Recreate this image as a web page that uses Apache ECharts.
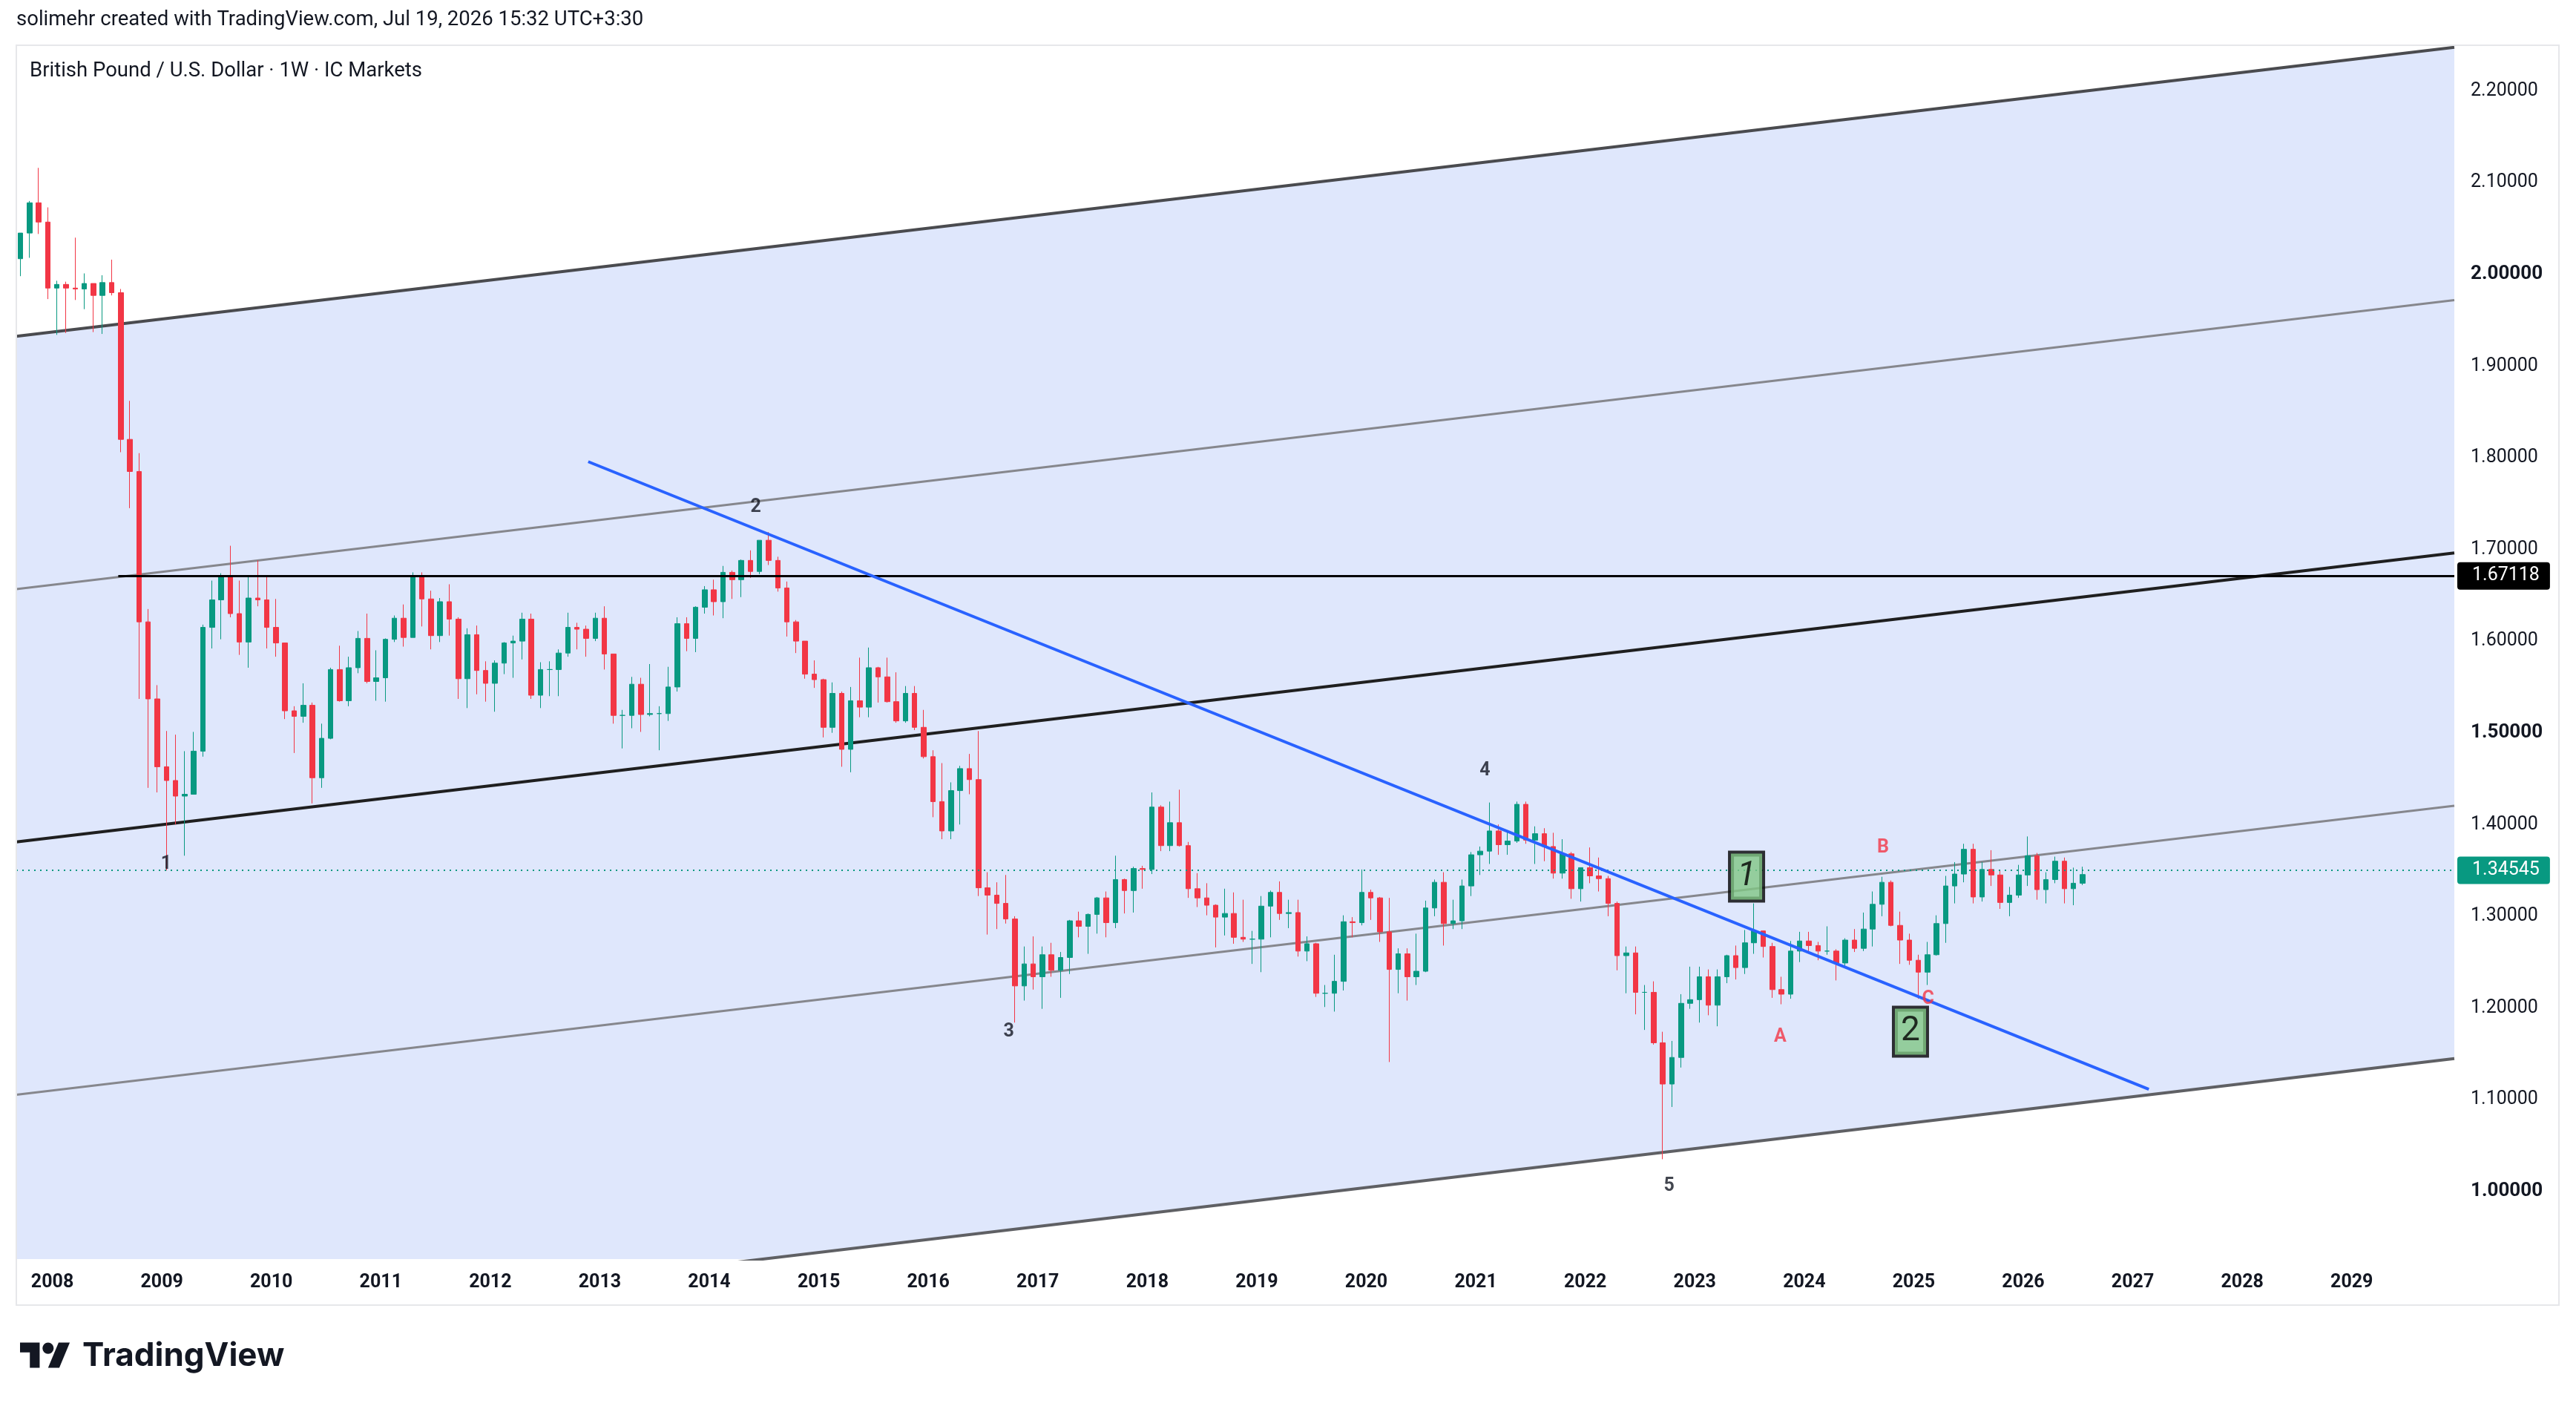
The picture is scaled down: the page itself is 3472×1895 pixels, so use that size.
<!DOCTYPE html>
<html>
<head>
<meta charset="utf-8">
<title>GBPUSD 1W</title>
<script src="https://cdn.jsdelivr.net/npm/echarts@6/dist/echarts.min.js"></script>
<style>
  html, body { margin: 0; padding: 0; background: #fff; }
  #chart { width: 3472px; height: 1895px; }
</style>
</head>
<body>
<div id="chart"></div>
<script>
// monthly candles, first one is Sep 2007
var firstYear = 2007, firstMonth = 9;

var opens = [
  2.0170, 2.0450, 2.0780, 2.0570,
  1.9850, 1.9890, 1.9850, 1.9840, 1.9900, 1.9770, 1.9910, 1.9800, 1.8200, 1.7850, 1.6210, 1.5370,
  1.4630, 1.4480, 1.4310, 1.4330, 1.4800, 1.6150, 1.6450, 1.6700, 1.6300, 1.5990, 1.6470, 1.6450,
  1.6150, 1.5980, 1.5240, 1.5180, 1.5300, 1.4510, 1.4940, 1.5690, 1.5350, 1.5710, 1.6030, 1.5560,
  1.5600, 1.6020, 1.6250, 1.6040, 1.6700, 1.6460, 1.6060, 1.6430, 1.6240, 1.5590, 1.6070, 1.5680,
  1.5540, 1.5760, 1.5980, 1.6000, 1.6240, 1.5410, 1.5690, 1.5690, 1.5870, 1.6150, 1.6130, 1.6030,
  1.6250, 1.5860, 1.5190, 1.5190, 1.5530, 1.5200, 1.5210, 1.5210, 1.5500, 1.6190, 1.6030, 1.6370,
  1.6560, 1.6430, 1.6750, 1.6670, 1.6880, 1.6760, 1.7100, 1.6880, 1.6580, 1.6210, 1.6000, 1.5640,
  1.5580, 1.5060, 1.5430, 1.4820, 1.5350, 1.5280, 1.5710, 1.5610, 1.5340, 1.5130, 1.5430, 1.5060,
  1.4740, 1.4250, 1.3930, 1.4370, 1.4610, 1.4490, 1.3310, 1.3230, 1.3140, 1.2970, 1.2240, 1.2480,
  1.2340, 1.2580, 1.2410, 1.2550, 1.2950, 1.2890, 1.3020, 1.3200, 1.2930, 1.3400, 1.3280, 1.3520,
  1.3510, 1.4190, 1.3770, 1.4020, 1.3770, 1.3300, 1.3200, 1.3120, 1.2990, 1.3030, 1.2770, 1.2750,
  1.2750, 1.3110, 1.3260, 1.3030, 1.3040, 1.2620, 1.2700, 1.2160, 1.2160, 1.2290, 1.2940, 1.2930,
  1.3260, 1.3200, 1.2830, 1.2420, 1.2590, 1.2340, 1.2400, 1.3090, 1.3370, 1.2920, 1.2950, 1.3330,
  1.3670, 1.3710, 1.3930, 1.3780, 1.3820, 1.4220, 1.3830, 1.3900, 1.3760, 1.3470, 1.3680, 1.3300,
  1.3530, 1.3440, 1.3410, 1.3140, 1.2570, 1.2600, 1.2170, 1.2170, 1.1620, 1.1170, 1.1460, 1.2050,
  1.2090, 1.2340, 1.2030, 1.2340, 1.2570, 1.2440, 1.2710, 1.2840, 1.2670, 1.2200, 1.2150, 1.2620,
  1.2730, 1.2680, 1.2620, 1.2620, 1.2490, 1.2740, 1.2650, 1.2860, 1.3130, 1.3370, 1.2900, 1.2740,
  1.2520, 1.2390, 1.2580, 1.2920, 1.3330, 1.3460, 1.3730, 1.3210, 1.3510, 1.3450, 1.3150, 1.3230,
  1.3450, 1.3660, 1.3290, 1.3400, 1.3600, 1.3300, 1.3360
];
var highs = [
  2.0450, 2.0800, 2.1161, 2.0730,
  1.9930, 1.9920, 2.0400, 2.0010, 1.9900, 1.9990, 2.0160, 1.9840, 1.8620, 1.8050, 1.6350, 1.5520,
  1.5020, 1.4980, 1.4800, 1.5010, 1.6180, 1.6660, 1.6740, 1.7040, 1.6660, 1.6700, 1.6880, 1.6700,
  1.6460, 1.5980, 1.5290, 1.5540, 1.5330, 1.5100, 1.5710, 1.5950, 1.5830, 1.6110, 1.6300, 1.5900,
  1.6030, 1.6280, 1.6400, 1.6750, 1.6750, 1.6550, 1.6470, 1.6620, 1.6260, 1.6140, 1.6170, 1.5780,
  1.5790, 1.5990, 1.6060, 1.6310, 1.6300, 1.5770, 1.5780, 1.5910, 1.6310, 1.6200, 1.6170, 1.6310,
  1.6380, 1.5860, 1.5250, 1.5610, 1.5600, 1.5750, 1.5290, 1.5720, 1.6260, 1.6260, 1.6380, 1.6600,
  1.6670, 1.6820, 1.6770, 1.6890, 1.6990, 1.7100, 1.7190, 1.6920, 1.6650, 1.6230, 1.6000, 1.5790,
  1.5590, 1.5550, 1.5450, 1.5500, 1.5820, 1.5930, 1.5720, 1.5820, 1.5660, 1.5510, 1.5510, 1.5250,
  1.4810, 1.4670, 1.4460, 1.4640, 1.4770, 1.5020, 1.3480, 1.3370, 1.3450, 1.3000, 1.2670, 1.2780,
  1.2670, 1.2710, 1.2610, 1.2960, 1.3050, 1.3030, 1.3210, 1.3270, 1.3660, 1.3410, 1.3540, 1.3550,
  1.4350, 1.4210, 1.4250, 1.4380, 1.3810, 1.3470, 1.3360, 1.3130, 1.3300, 1.3260, 1.3180, 1.2840,
  1.3220, 1.3280, 1.3380, 1.3180, 1.3180, 1.2780, 1.2710, 1.2250, 1.2580, 1.3010, 1.2990, 1.3510,
  1.3290, 1.3210, 1.3200, 1.2650, 1.2650, 1.2810, 1.3170, 1.3400, 1.3480, 1.3180, 1.3400, 1.3700,
  1.3760, 1.4240, 1.4000, 1.3920, 1.4250, 1.4250, 1.3980, 1.3960, 1.3910, 1.3840, 1.3700, 1.3530,
  1.3750, 1.3640, 1.3440, 1.3160, 1.2670, 1.2670, 1.2250, 1.2290, 1.1740, 1.1640, 1.2150, 1.2450,
  1.2450, 1.2420, 1.2420, 1.2580, 1.2680, 1.2850, 1.3140, 1.2840, 1.2710, 1.2340, 1.2730, 1.2830,
  1.2830, 1.2720, 1.2890, 1.2640, 1.2760, 1.2860, 1.3040, 1.3270, 1.3430, 1.3390, 1.3050, 1.2810,
  1.2580, 1.2720, 1.3010, 1.3440, 1.3590, 1.3790, 1.3790, 1.3590, 1.3720, 1.3500, 1.3320, 1.3560,
  1.3870, 1.3690, 1.3480, 1.3650, 1.3640, 1.3530, 1.3540
];
var lows = [
  1.9980, 2.0180, 2.0440, 1.9730,
  1.9340, 1.9360, 1.9720, 1.9620, 1.9370, 1.9350, 1.9770, 1.8060, 1.7450, 1.5370, 1.4400, 1.4350,
  1.3500, 1.4000, 1.3660, 1.4350, 1.4740, 1.5920, 1.6020, 1.6260, 1.5850, 1.5710, 1.6380, 1.5920,
  1.5830, 1.5150, 1.4780, 1.5110, 1.4230, 1.4400, 1.4930, 1.5340, 1.5290, 1.5650, 1.5540, 1.5350,
  1.5340, 1.5990, 1.5940, 1.6040, 1.6160, 1.5910, 1.5990, 1.6060, 1.5370, 1.5270, 1.5420, 1.5340,
  1.5230, 1.5640, 1.5600, 1.5800, 1.5370, 1.5270, 1.5400, 1.5400, 1.5830, 1.5910, 1.5830, 1.6000,
  1.5690, 1.5100, 1.4830, 1.5050, 1.5010, 1.5180, 1.4810, 1.5130, 1.5450, 1.5890, 1.5880, 1.6300,
  1.6280, 1.6250, 1.6460, 1.6480, 1.6690, 1.6730, 1.6830, 1.6540, 1.6050, 1.5870, 1.5590, 1.5490,
  1.4950, 1.5000, 1.4630, 1.4570, 1.5170, 1.5170, 1.5330, 1.5330, 1.5110, 1.5110, 1.5030, 1.4720,
  1.4080, 1.3840, 1.3840, 1.4000, 1.4330, 1.3220, 1.2800, 1.2860, 1.2920, 1.1840, 1.2080, 1.2200,
  1.1990, 1.2340, 1.2110, 1.2370, 1.2770, 1.2590, 1.2810, 1.2770, 1.2870, 1.3030, 1.3040, 1.3300,
  1.3460, 1.3710, 1.3710, 1.3760, 1.3200, 1.3100, 1.3010, 1.2660, 1.2790, 1.2700, 1.2720, 1.2480,
  1.2390, 1.2770, 1.2960, 1.2870, 1.2560, 1.2510, 1.2120, 1.2010, 1.1960, 1.2190, 1.2770, 1.2900,
  1.2960, 1.2720, 1.1410, 1.2160, 1.2080, 1.2250, 1.2390, 1.3000, 1.2680, 1.2860, 1.2860, 1.3220,
  1.3450, 1.3570, 1.3670, 1.3670, 1.3800, 1.3790, 1.3570, 1.3600, 1.3410, 1.3410, 1.3190, 1.3160,
  1.3360, 1.3270, 1.3000, 1.2410, 1.2160, 1.1930, 1.1760, 1.1600, 1.0350, 1.0920, 1.1350, 1.1990,
  1.1840, 1.1920, 1.1800, 1.2270, 1.2310, 1.2370, 1.2590, 1.2550, 1.2110, 1.2040, 1.2100, 1.2500,
  1.2600, 1.2520, 1.2580, 1.2300, 1.2460, 1.2610, 1.2620, 1.2670, 1.3000, 1.2890, 1.2480, 1.2470,
  1.2100, 1.2250, 1.2570, 1.2710, 1.3140, 1.3370, 1.3140, 1.3160, 1.3330, 1.3080, 1.3000, 1.3200,
  1.3330, 1.3180, 1.3140, 1.3360, 1.3140, 1.3120, 1.3340
];
var closes = [
  2.0450, 2.0780, 2.0570, 1.9850,
  1.9890, 1.9850, 1.9840, 1.9900, 1.9770, 1.9910, 1.9800, 1.8200, 1.7850, 1.6210, 1.5370, 1.4630,
  1.4480, 1.4310, 1.4330, 1.4800, 1.6150, 1.6450, 1.6700, 1.6300, 1.5990, 1.6470, 1.6450, 1.6150,
  1.5980, 1.5240, 1.5180, 1.5300, 1.4510, 1.4940, 1.5690, 1.5350, 1.5710, 1.6030, 1.5560, 1.5600,
  1.6020, 1.6250, 1.6040, 1.6700, 1.6460, 1.6060, 1.6430, 1.6240, 1.5590, 1.6070, 1.5680, 1.5540,
  1.5760, 1.5980, 1.6000, 1.6240, 1.5410, 1.5690, 1.5690, 1.5870, 1.6150, 1.6130, 1.6030, 1.6250,
  1.5860, 1.5190, 1.5190, 1.5530, 1.5200, 1.5210, 1.5210, 1.5500, 1.6190, 1.6030, 1.6370, 1.6560,
  1.6430, 1.6750, 1.6670, 1.6880, 1.6760, 1.7100, 1.6880, 1.6580, 1.6210, 1.6000, 1.5640, 1.5580,
  1.5060, 1.5430, 1.4820, 1.5350, 1.5280, 1.5710, 1.5610, 1.5340, 1.5130, 1.5430, 1.5060, 1.4740,
  1.4250, 1.3930, 1.4370, 1.4610, 1.4490, 1.3310, 1.3230, 1.3140, 1.2970, 1.2240, 1.2480, 1.2340,
  1.2580, 1.2410, 1.2550, 1.2950, 1.2890, 1.3020, 1.3200, 1.2930, 1.3400, 1.3280, 1.3520, 1.3510,
  1.4190, 1.3770, 1.4020, 1.3770, 1.3300, 1.3200, 1.3120, 1.2990, 1.3030, 1.2770, 1.2750, 1.2750,
  1.3110, 1.3260, 1.3030, 1.3040, 1.2620, 1.2700, 1.2160, 1.2160, 1.2290, 1.2940, 1.2930, 1.3260,
  1.3200, 1.2830, 1.2420, 1.2590, 1.2340, 1.2400, 1.3090, 1.3370, 1.2920, 1.2950, 1.3330, 1.3670,
  1.3710, 1.3930, 1.3780, 1.3820, 1.4220, 1.3830, 1.3900, 1.3760, 1.3470, 1.3680, 1.3300, 1.3530,
  1.3440, 1.3410, 1.3140, 1.2570, 1.2600, 1.2170, 1.2170, 1.1620, 1.1170, 1.1460, 1.2050, 1.2090,
  1.2340, 1.2030, 1.2340, 1.2570, 1.2440, 1.2710, 1.2840, 1.2670, 1.2200, 1.2150, 1.2620, 1.2730,
  1.2680, 1.2620, 1.2620, 1.2490, 1.2740, 1.2650, 1.2860, 1.3130, 1.3370, 1.2900, 1.2740, 1.2520,
  1.2390, 1.2580, 1.2920, 1.3330, 1.3460, 1.3730, 1.3210, 1.3510, 1.3450, 1.3150, 1.3230, 1.3450,
  1.3660, 1.3290, 1.3400, 1.3600, 1.3300, 1.3360, 1.34545
];

// axis ticks
var priceTicks = [1.0, 1.1, 1.2, 1.3, 1.4, 1.5, 1.6, 1.7, 1.8, 1.9, 2.0, 2.1, 2.2];
var boldPrices = [1.0, 1.5, 2.0];
var yearTicks = [2008, 2009, 2010, 2011, 2012, 2013, 2014, 2015, 2016, 2017, 2018,
                 2019, 2020, 2021, 2022, 2023, 2024, 2025, 2026, 2027, 2028, 2029];

// drawings (year, price)
var channelStart = [2007.671, 0.8296];
var channelEnd = [2029.937, 1.1448];
var channelLevels = [0, 0.2757, 0.5514, 0.8271, 1.1028];
var trendLine = [[2012.894, 1.7957], [2027.147, 1.1113]];
var levelStart = [2008.602, 1.67118];
var lastPrice = 1.34545;

var waveNames = ['1', '2', '3', '4', '5'];
var waveX = [2009.04, 2014.424, 2016.735, 2021.084, 2022.766];
var waveY = [1.3568, 1.7456, 1.174, 1.4589, 1.0057];
var abcNames = ['A', 'B', 'C'];
var abcX = [2023.78, 2024.72, 2025.13];
var abcY = [1.1685, 1.3747, 1.2097];
var boxNames = ['1', '2'];
var boxX = [2023.473, 2024.97];
var boxY = [1.3432, 1.1741];

var xMin = channelStart[0], xMax = channelEnd[0];
var yMin = 0.9261, yMax = 2.2498;

var candleData = opens.map(function (o, i) {
  var m = firstMonth - 1 + i;
  var x = firstYear + Math.floor(m / 12) + ((m % 12) + 0.5) / 12;
  return [x, o, closes[i], lows[i], highs[i]];
});

// channel background polygon, cut where the lower line leaves the plot
var chSlope = (channelEnd[1] - channelStart[1]) / (channelEnd[0] - channelStart[0]);
var chTop = channelLevels[channelLevels.length - 1];
var xCut = channelStart[0] + (yMin - channelStart[1]) / chSlope;
var bandPoly = [
  [channelStart[0], channelStart[1] + chTop],
  [channelEnd[0], channelEnd[1] + chTop],
  [channelEnd[0], channelEnd[1]],
  [xCut, yMin],
  [channelStart[0], yMin]
];

var font = 'Roboto, "Noto Sans", sans-serif';
var ink = '#131722';

var chart = echarts.init(document.getElementById('chart'));

var lineColors = ['#5f6064', '#86878d', '#1f1f1f', '#86878d', '#4a4b4f'];
var lineWidths = [4, 3, 4, 3, 4];
var series = [];

series.push({
  type: 'custom', silent: true, z: 1,
  data: [[xMin, yMin]],
  renderItem: function (params, api) {
    return {
      type: 'polygon',
      shape: { points: bandPoly.map(function (p) { return api.coord(p); }) },
      style: { fill: '#dfe7fc' }
    };
  }
});

channelLevels.forEach(function (lv, i) {
  series.push({
    type: 'line', silent: true, symbol: 'none', z: 3,
    data: [[channelStart[0], channelStart[1] + lv], [channelEnd[0], channelEnd[1] + lv]],
    lineStyle: { color: lineColors[i], width: lineWidths[i] }
  });
});

// candles
series.push({
  type: 'candlestick', z: 4,
  barWidth: 7,
  data: candleData,
  itemStyle: {
    color: '#089981', color0: '#f23645',
    borderColor: '#089981', borderColor0: '#f23645', borderWidth: 1
  },
  markLine: {
    silent: true, symbol: 'none', animation: false,
    data: [
      {
        yAxis: lastPrice,
        lineStyle: { color: '#089981', type: [2, 6], width: 2 },
        label: {
          position: 'end', distance: 4, formatter: lastPrice.toFixed(5),
          color: '#fff', backgroundColor: '#089981', borderRadius: 4,
          padding: [7, 14, 5, 20], fontSize: 25, fontFamily: font
        }
      },
      [
        {
          coord: levelStart,
          lineStyle: { color: '#000', type: 'solid', width: 3 },
          label: {
            position: 'end', distance: 4, formatter: levelStart[1].toFixed(5),
            color: '#fff', backgroundColor: '#000', borderRadius: 4,
            padding: [7, 14, 5, 20], fontSize: 25, fontFamily: font
          }
        },
        { coord: [xMax, levelStart[1]] }
      ]
    ]
  }
});

// blue trend line
series.push({
  type: 'line', silent: true, symbol: 'none', z: 5,
  data: trendLine,
  lineStyle: { color: '#2962ff', width: 4 }
});

function labelSeries(names, xs, ys, label) {
  return {
    type: 'scatter', silent: true, symbolSize: 1, z: 6,
    itemStyle: { color: 'rgba(0,0,0,0)' },
    data: names.map(function (n, i) { return { name: n, value: [xs[i], ys[i]] }; }),
    label: Object.assign({ show: true, position: 'inside', formatter: '{b}' }, label)
  };
}

series.push(labelSeries(waveNames, waveX, waveY, {
  color: ink, fontSize: 25, fontWeight: 'bold', fontFamily: font
}));
series.push(labelSeries(abcNames, abcX, abcY, {
  color: '#f23645', fontSize: 25, fontWeight: 'bold', fontFamily: font
}));
var boxSeries = labelSeries(boxNames, boxX, boxY, {
  color: '#000', fontSize: 46, fontFamily: font,
  backgroundColor: '#81c784', borderColor: '#000', borderWidth: 4,
  width: 42, height: 62, lineHeight: 62, align: 'center', padding: 0
});
// first box is written in italic
boxSeries.data[0].label = { fontStyle: 'italic' };
series.push(boxSeries);

// TradingView logo shapes (icon units, scaled)
var logoScale = 1.89;
function logoPts(pts) {
  return pts.map(function (p) { return [27 + p[0] * logoScale, 1802 + p[1] * logoScale]; });
}

chart.setOption({
  animation: false,
  backgroundColor: '#ffffff',
  grid: { left: 22, top: 61, right: 164, bottom: 198, containLabel: false },
  xAxis: {
    type: 'value', min: xMin, max: xMax,
    axisLine: { show: false }, axisTick: { show: false }, splitLine: { show: false },
    axisLabel: {
      customValues: yearTicks, margin: 19,
      color: ink, fontSize: 25, fontWeight: 'bold', fontFamily: font,
      formatter: function (v) { return String(Math.round(v)); }
    }
  },
  yAxis: {
    type: 'value', position: 'right', min: yMin, max: yMax, scale: true,
    axisLine: { show: false }, axisTick: { show: false }, splitLine: { show: false },
    axisLabel: {
      customValues: priceTicks, margin: 22, align: 'left',
      color: ink, fontSize: 25, fontFamily: font,
      formatter: function (v) {
        var b = boldPrices.some(function (p) { return Math.abs(p - v) < 1e-6; });
        return b ? '{b|' + v.toFixed(5) + '}' : v.toFixed(5);
      },
      rich: { b: { fontWeight: 'bold', fontSize: 26, color: ink, fontFamily: font } }
    }
  },
  graphic: [
    {
      type: 'rect', z: 100, silent: true,
      shape: { x: 22, y: 61, width: 3427, height: 1698 },
      style: { fill: 'none', stroke: '#e6e7ea', lineWidth: 2 }
    },
    {
      type: 'text', x: 22, y: 27, silent: true,
      style: {
        text: 'solimehr created with TradingView.com, Jul 19, 2026 15:32 UTC+3:30',
        fill: ink, fontSize: 27.5, fontFamily: font, verticalAlign: 'middle'
      }
    },
    {
      type: 'text', x: 40, y: 96, silent: true, z: 100,
      style: {
        text: 'British Pound / U.S. Dollar \u00b7 1W \u00b7 IC Markets',
        fill: ink, fontSize: 27.5, fontFamily: font, verticalAlign: 'middle'
      }
    },
    {
      type: 'polygon', silent: true,
      shape: { points: logoPts([[0, 4], [14, 4], [14, 22], [7, 22], [7, 11], [0, 11]]) },
      style: { fill: ink }
    },
    {
      type: 'polygon', silent: true,
      shape: { points: logoPts([[20, 22], [28, 22], [35.5, 4], [27.5, 4]]) },
      style: { fill: ink }
    },
    {
      type: 'circle', silent: true,
      shape: { cx: 27 + 20 * logoScale, cy: 1802 + 8 * logoScale, r: 4 * logoScale },
      style: { fill: ink }
    },
    {
      type: 'text', x: 111, y: 1828, silent: true,
      style: {
        text: 'TradingView', fill: ink, fontSize: 44, fontWeight: 'bold',
        fontFamily: 'Inter, Roboto, sans-serif', verticalAlign: 'middle'
      }
    }
  ],
  series: series
});
</script>
</body>
</html>
